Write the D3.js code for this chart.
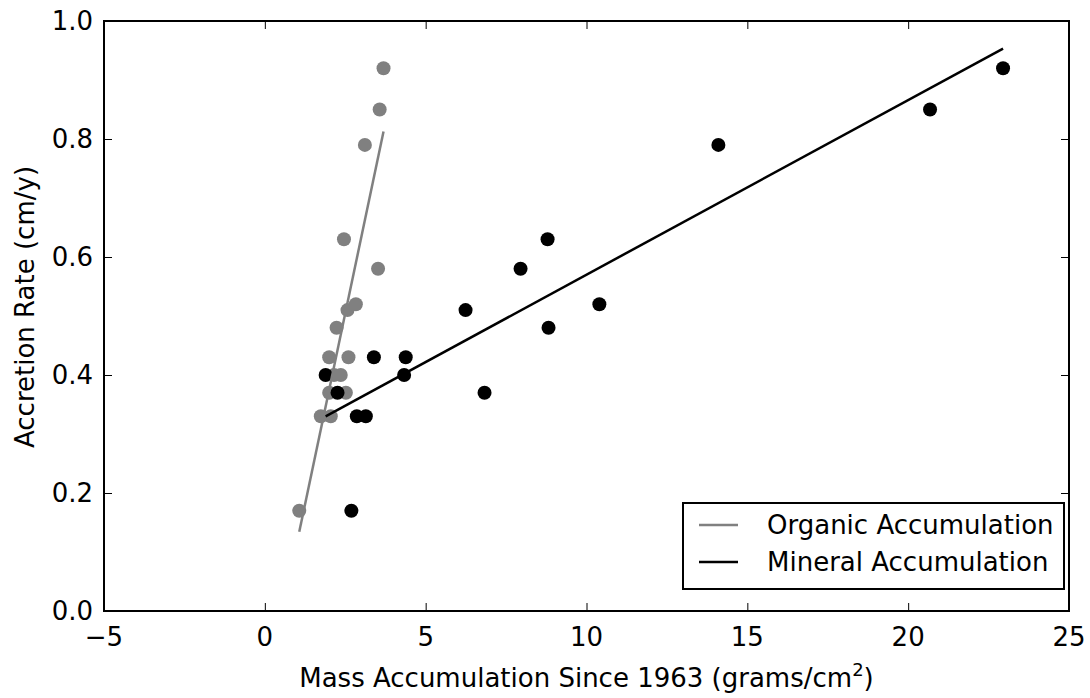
<!DOCTYPE html>
<html>
<head>
<meta charset="utf-8">
<script src="https://d3js.org/d3.v7.min.js"></script>
<style>
	body { margin: 0; background: #fff; }
	text { font-family: "DejaVu Sans", sans-serif; }
</style>
</head>
<body>
<script>
// organic accumulation (g/cm2) vs accretion rate
var organicX = [1.07, 1.74, 2.05, 2.0, 2.52, 2.15, 2.36, 2.0, 2.6, 2.23, 2.57, 2.83, 2.46, 3.52, 3.11, 3.57, 3.69];
var organicY = [0.17, 0.33, 0.33, 0.37, 0.37, 0.40, 0.40, 0.43, 0.43, 0.48, 0.51, 0.52, 0.63, 0.58, 0.79, 0.85, 0.92];

// mineral accumulation (g/cm2) vs accretion rate
var mineralX = [1.89, 2.26, 2.69, 2.86, 3.14, 3.39, 4.33, 4.38, 6.24, 6.83, 7.95, 8.82, 8.79, 10.4, 14.1, 20.68, 22.95];
var mineralY = [0.40, 0.37, 0.17, 0.33, 0.33, 0.43, 0.40, 0.43, 0.51, 0.37, 0.58, 0.48, 0.63, 0.52, 0.79, 0.85, 0.92];

// fitted lines: [slope, intercept]
var organicFit = [0.259, -0.143];
var mineralFit = [0.0296, 0.274];

var xTicks = [-5, 0, 5, 10, 15, 20, 25];
var yTicks = [0, 0.2, 0.4, 0.6, 0.8, 1.0];

var seriesNames = ['Organic Accumulation', 'Mineral Accumulation'];
var seriesColors = ['#808080', '#000000'];

var width = 1090,
	height = 698,
	fontSize = 26;

var svg = d3.select('body')
		.append('svg')
		.attr('width', width)
		.attr('height', height);

var pLeft = 104, pRight = 1069, pTop = 21, pBottom = 611;

var x = d3.scaleLinear()
	.domain([-5, 25])
	.range([pLeft, pRight]);

var y = d3.scaleLinear()
	.domain([0, 1])
	.range([pBottom, pTop]);

var organic = organicX.map(function(d, i) { return [d, organicY[i]]; });
var mineral = mineralX.map(function(d, i) { return [d, mineralY[i]]; });

function fitLine(pts, fit) {
	var ext = d3.extent(pts, function(d) { return d[0]; });
	return ext.map(function(v) { return [v, fit[0] * v + fit[1]]; });
}

var line = d3.line()
	.x(function(d) { return x(d[0]); })
	.y(function(d) { return y(d[1]); });

// points
svg.append('g').selectAll('circle')
	.data(organic)
	.enter().append('circle')
	.attr('cx', function(d) { return x(d[0]); })
	.attr('cy', function(d) { return y(d[1]); })
	.attr('r', 7)
	.attr('fill', seriesColors[0]);

svg.append('g').selectAll('circle')
	.data(mineral)
	.enter().append('circle')
	.attr('cx', function(d) { return x(d[0]); })
	.attr('cy', function(d) { return y(d[1]); })
	.attr('r', 7)
	.attr('fill', seriesColors[1]);

// fit lines
svg.append('path')
	.attr('d', line(fitLine(organic, organicFit)))
	.attr('fill', 'none')
	.attr('stroke', seriesColors[0])
	.attr('stroke-width', 2.5);

svg.append('path')
	.attr('d', line(fitLine(mineral, mineralFit)))
	.attr('fill', 'none')
	.attr('stroke', seriesColors[1])
	.attr('stroke-width', 2.5);

// axes, ticks inside on all four sides
var tickLen = 8;
var fmtY = d3.format('.1f');
var fmtX = function(d) { return d < 0 ? '\u2212' + Math.abs(d) : String(d); };

svg.append('g')
	.attr('transform', 'translate(0,' + pBottom + ')')
	.call(d3.axisTop(x).tickValues(xTicks).tickSize(tickLen).tickFormat(''))
	.call(function(g) { g.select('.domain').remove(); });
svg.append('g')
	.attr('transform', 'translate(0,' + pTop + ')')
	.call(d3.axisBottom(x).tickValues(xTicks).tickSize(tickLen).tickFormat(''))
	.call(function(g) { g.select('.domain').remove(); });
svg.append('g')
	.attr('transform', 'translate(' + pLeft + ',0)')
	.call(d3.axisRight(y).tickValues(yTicks).tickSize(tickLen).tickFormat(''))
	.call(function(g) { g.select('.domain').remove(); });
svg.append('g')
	.attr('transform', 'translate(' + pRight + ',0)')
	.call(d3.axisLeft(y).tickValues(yTicks).tickSize(tickLen).tickFormat(''))
	.call(function(g) { g.select('.domain').remove(); });

svg.selectAll('.tick line').attr('stroke', '#000').attr('stroke-width', 1);

svg.append('g').selectAll('text')
	.data(xTicks)
	.enter().append('text')
	.attr('x', function(d) { return x(d); })
	.attr('y', pBottom + 35)
	.attr('text-anchor', 'middle')
	.attr('font-size', fontSize)
	.text(fmtX);

svg.append('g').selectAll('text')
	.data(yTicks)
	.enter().append('text')
	.attr('x', pLeft - 11)
	.attr('y', function(d) { return y(d); })
	.attr('dy', '0.35em')
	.attr('text-anchor', 'end')
	.attr('font-size', fontSize)
	.text(fmtY);

svg.append('rect')
	.attr('x', pLeft)
	.attr('y', pTop)
	.attr('width', pRight - pLeft)
	.attr('height', pBottom - pTop)
	.attr('fill', 'none')
	.attr('stroke', '#000')
	.attr('stroke-width', 2);

// axis titles
var xl = svg.append('text')
	.attr('x', (pLeft + pRight) / 2)
	.attr('y', 687)
	.attr('text-anchor', 'middle')
	.attr('font-size', fontSize);
xl.append('tspan').text('Mass Accumulation Since 1963 (grams/cm');
xl.append('tspan').attr('dy', -11).attr('font-size', 18).text('2');
xl.append('tspan').attr('dy', 11).text(')');

svg.append('text')
	.attr('transform', 'translate(25,307) rotate(-90)')
	.attr('text-anchor', 'middle')
	.attr('dy', '0.35em')
	.attr('font-size', fontSize)
	.text('Accretion Rate (cm/y)');

// legend
var legend = svg.append('g');
legend.append('rect')
	.attr('x', 683)
	.attr('y', 503)
	.attr('width', 381)
	.attr('height', 86)
	.attr('fill', '#fff')
	.attr('stroke', '#000')
	.attr('stroke-width', 2);

var rows = legend.selectAll('g.row')
	.data(seriesNames)
	.enter().append('g')
	.attr('class', 'row')
	.attr('transform', function(d, i) { return 'translate(0,' + (525 + i * 37) + ')'; });

rows.append('line')
	.attr('x1', 699)
	.attr('x2', 738)
	.attr('stroke', function(d, i) { return seriesColors[i]; })
	.attr('stroke-width', 2.5);

rows.append('text')
	.attr('x', 767)
	.attr('dy', '0.35em')
	.attr('font-size', fontSize)
	.text(function(d) { return d; });
</script>
</body>
</html>
